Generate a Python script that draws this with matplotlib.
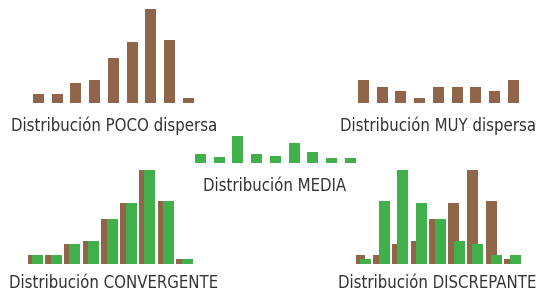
import matplotlib
matplotlib.use('Agg')
import matplotlib.pyplot as plt
from matplotlib import font_manager
import numpy as np

# alturas de las barras (px aprox.)
poco = [9, 9, 20, 23, 45, 61, 94, 63, 5]
muy = [23, 16, 12, 5, 16, 16, 16, 12, 23]
media = [9, 6, 27, 9, 7, 20, 11, 5, 5]
convergente = poco
discrepante = poco[::-1]

titulos = ['Distribución POCO dispersa', 'Distribución MUY dispersa',
           'Distribución MEDIA', 'Distribución CONVERGENTE',
           'Distribución DISCREPANTE']

marron = '#91654a'
verde = '#41b04a'
gris = '#333333'

W, H = 538, 293
fig = plt.figure(figsize=(W / 100, H / 100), dpi=100)

paso = 18.75       # px entre barras
ancho = 11 / paso  # ancho de barra en unidades
desp = 0.3         # desplazamiento de la serie marron


def panel(x_izq, y_base, alto=100):
    # ejes en coordenadas de pixel (y desde arriba)
    ax = fig.add_axes([x_izq / W, (H - y_base) / H, 9 * paso / W, alto / H])
    ax.set_xlim(-0.5, 8.5)
    ax.set_ylim(0, alto)
    ax.axis('off')
    return ax


x = np.arange(9)

ax1 = panel(29.1, 103)
ax1.bar(x, poco, width=ancho, color=marron)

ax2 = panel(354.1, 103)
ax2.bar(x, muy, width=ancho, color=marron)

ax3 = panel(191.1, 163, alto=40)
ax3.bar(x, media, width=ancho, color=verde)

ax4 = panel(28.1, 264)
ax4.bar(x - desp, poco, width=ancho, color=marron)
ax4.bar(x, convergente, width=ancho, color=verde)

ax5 = panel(356.1, 264)
ax5.bar(x - desp, poco, width=ancho, color=marron)
ax5.bar(x, discrepante, width=ancho, color=verde)

# buscar una fuente estrecha si la hay
fuente = None
for f in font_manager.fontManager.ttflist:
    nombre = f.name.lower()
    if ('narrow' in nombre or 'condensed' in nombre or f.stretch == 'condensed') \
            and f.style == 'normal' and f.weight in (400, 'normal', 'regular'):
        fuente = font_manager.FontProperties(fname=f.fname)
        break
if fuente is None:
    fuente = font_manager.FontProperties(family='Liberation Sans')

# textos
pos = [(114, 131), (437.5, 131), (274.5, 191), (114, 288.5), (437.5, 288.5)]
textos = []
for t, (px, py) in zip(titulos, pos):
    txt = fig.text(px / W, 1 - py / H, t, ha='center', va='baseline',
                   color=gris, fontproperties=fuente.copy())
    txt.set_fontsize(14.5)
    textos.append(txt)

# ajustar tamano para que el ancho coincida (~206 px para el primero)
fig.canvas.draw()
r = fig.canvas.get_renderer()
ancho_txt = textos[0].get_window_extent(r).width
escala = 206 / ancho_txt
for txt in textos:
    txt.set_fontsize(14.5 * escala)

fig.savefig('out.png', dpi=100)
